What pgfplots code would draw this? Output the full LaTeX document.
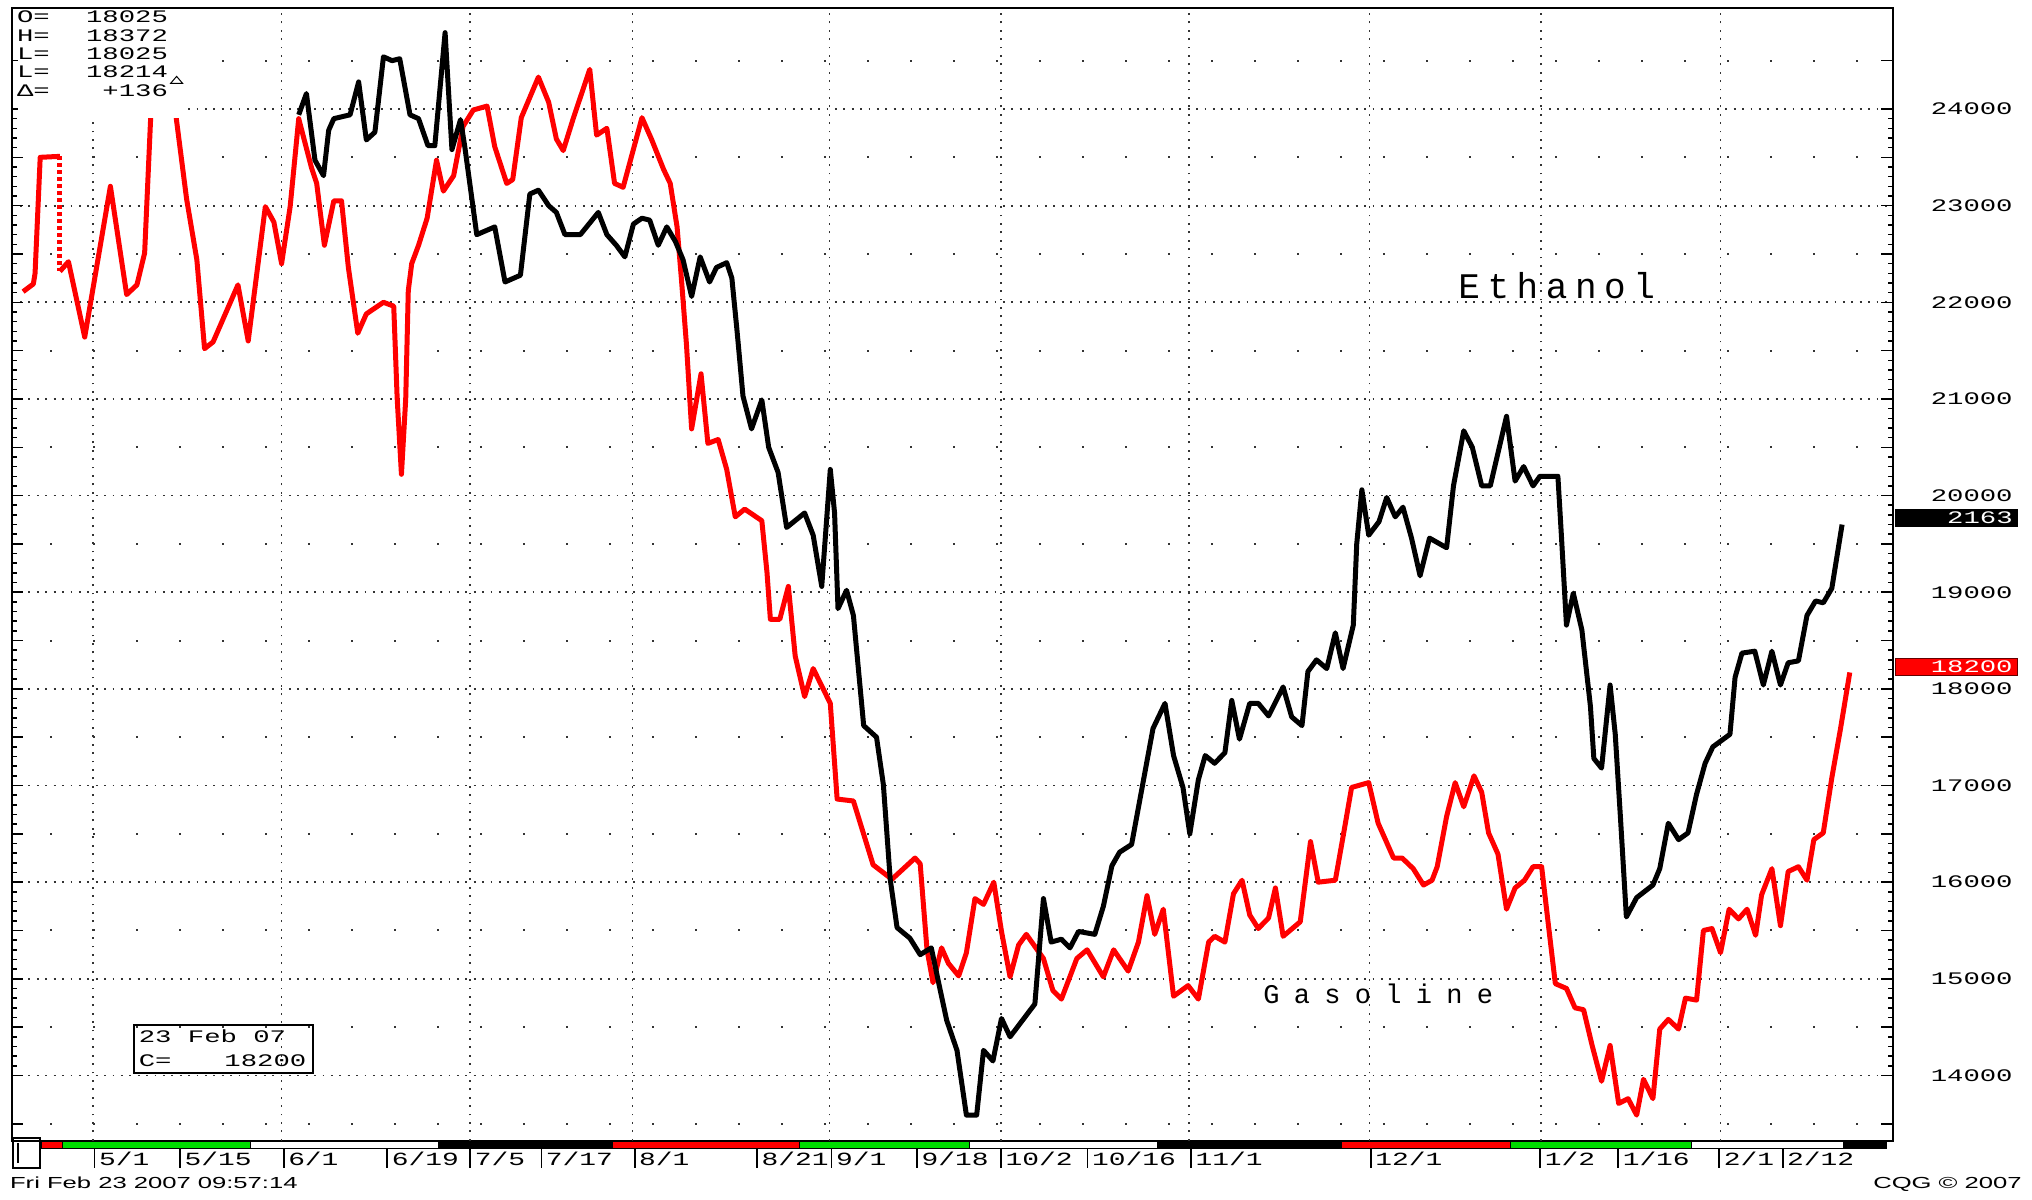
\documentclass[border=0pt]{standalone}
\usepackage{fontspec}
\setmainfont{Liberation Sans}
\newfontfamily\cqgnumfam[FakeStretch=1.55]{Liberation Mono}
\newfontfamily\cqgdatefam[FakeStretch=1.5]{Liberation Mono}
\newfontfamily\cqgsansfam[FakeStretch=1.6]{Liberation Sans}
\newfontfamily\ethfam[LetterSpace=21]{Liberation Mono}
\newfontfamily\gasfam[LetterSpace=53]{Liberation Mono}
\newcommand{\numfont}{\cqgnumfam\fontsize{8.8pt}{10pt}\selectfont}
\newcommand{\datefont}{\cqgdatefam\fontsize{9.3pt}{11pt}\selectfont}
\newcommand{\footfont}{\cqgsansfam\fontsize{8pt}{10pt}\selectfont}
\newcommand{\lab}[1]{\rule[-0.85pt]{0.9pt}{10.35pt}\hspace{1.8pt}#1}
\usepackage{pgfplots}
\pgfplotsset{compat=1.18}
\definecolor{cqgred}{rgb}{1,0,0}
\definecolor{cqggreen}{RGB}{0,220,0}
\tikzset{
  densegrid/.style={line width=0.9pt, black!80, dash pattern=on 0.9pt off 3.3pt},
  sparsegrid/.style={line width=1pt, black!80, dash pattern=on 1pt off 20.5pt, dash phase=2.35pt},
}
\begin{document}
\begin{tikzpicture}
\path[use as bounding box] (0,0) rectangle (1016pt,599.5pt);
\begin{axis}[
  at={(5.85pt,29.25pt)}, anchor=south west,
  scale only axis, width=940.65pt, height=566.05pt,
  xmin=-9.53, xmax=210.25, ymin=13327, ymax=25041,
  clip mode=individual,
  scaled y ticks=false, scaled x ticks=false,
  axis line style={line width=1pt, black},
  ytick={14000,15000,16000,17000,18000,19000,20000,21000,22000,23000,24000},
  yticklabels={14000,15000,16000,17000,18000,19000,20000,21000,22000,23000,24000},
  extra y ticks={13500,14500,15500,16500,17500,18500,19500,20500,21500,22500,23500,24500},
  extra y tick labels={},
  extra y tick style={grid=none},
  minor y tick num=9,
  ytick pos=both, yticklabel pos=right, ytick align=inside,
  major tick length=5.8pt, minor tick length=2.5pt,
  tick style={black, line width=0.75pt},
  ymajorgrids, major grid style={densegrid},
  yticklabel style={font=\numfont, anchor=east, xshift=60pt, inner sep=0pt},
  xtick={0,9.99,22.1,34.2,43.9,52.2,63.1,77.4,86.1,96.1,105.9,116.0,128.1,149.1,168.9,178.0,189.8,197.2},
  xticklabels={\lab{5/1},\lab{5/15},\lab{6/1},\lab{6/19},\lab{7/5},\lab{7/17},\lab{8/1},\lab{8/21},\lab{9/1},\lab{9/18},\lab{10/2},\lab{10/16},\lab{11/1},\lab{12/1},\lab{1/2},\lab{1/16},\lab{2/1},\lab{2/12}},
  xtick style={draw=none},
  xticklabel style={font=\datefont, anchor=north west, inner sep=0pt, yshift=-3pt},
]
% sparse 500-level rows
\draw[sparsegrid] (axis cs:-9.53,13500) -- (axis cs:210.25,13500);
\draw[sparsegrid] (axis cs:-9.53,14500) -- (axis cs:210.25,14500);
\draw[sparsegrid] (axis cs:-9.53,15500) -- (axis cs:210.25,15500);
\draw[sparsegrid] (axis cs:-9.53,16500) -- (axis cs:210.25,16500);
\draw[sparsegrid] (axis cs:-9.53,17500) -- (axis cs:210.25,17500);
\draw[sparsegrid] (axis cs:-9.53,18500) -- (axis cs:210.25,18500);
\draw[sparsegrid] (axis cs:-9.53,19500) -- (axis cs:210.25,19500);
\draw[sparsegrid] (axis cs:-9.53,20500) -- (axis cs:210.25,20500);
\draw[sparsegrid] (axis cs:-9.53,21500) -- (axis cs:210.25,21500);
\draw[sparsegrid] (axis cs:-9.53,22500) -- (axis cs:210.25,22500);
\draw[sparsegrid] (axis cs:-9.53,23500) -- (axis cs:210.25,23500);
\draw[sparsegrid] (axis cs:-9.53,24500) -- (axis cs:210.25,24500);
% month lines
\draw[densegrid] (axis cs:0,13327) -- (axis cs:0,25041);
\draw[densegrid] (axis cs:22,13327) -- (axis cs:22,25041);
\draw[densegrid] (axis cs:44,13327) -- (axis cs:44,25041);
\draw[densegrid] (axis cs:63,13327) -- (axis cs:63,25041);
\draw[densegrid] (axis cs:86,13327) -- (axis cs:86,25041);
\draw[densegrid] (axis cs:106,13327) -- (axis cs:106,25041);
\draw[densegrid] (axis cs:128,13327) -- (axis cs:128,25041);
\draw[densegrid] (axis cs:149.1,13327) -- (axis cs:149.1,25041);
\draw[densegrid] (axis cs:169.1,13327) -- (axis cs:169.1,25041);
\draw[densegrid] (axis cs:190.1,13327) -- (axis cs:190.1,25041);

% Gasoline (red)
\addplot[cqgred, line width=2.5pt, line join=round] coordinates {
(-8.2,22110) (-7.0,22190) (-6.8,22300) (-6.2,23500) (-3.9,23510)};
\addplot[cqgred, line width=2.5pt, dash pattern=on 2pt off 1.5pt] coordinates {(-3.9,23510) (-3.9,22320)};
\addplot[cqgred, line width=2.5pt, line join=round] coordinates {
(-3.9,22320) (-2.9,22420) (-1.0,21640) (2.0,23200) (3.9,22080) (5.1,22180) (6.0,22510) (6.7,23900) (7.6,24600) (8.8,24650) (9.7,23900) (10.9,23070) (12.1,22440) (13.0,21520) (14.0,21590) (16.9,22180) (18.1,21600) (20.1,22990) (21.1,22830) (22.0,22400) (23.0,22990) (24.0,23900) (25.5,23390) (26.1,23230) (27.0,22590) (28.1,23050) (29.0,23050) (29.8,22360) (30.9,21680) (31.9,21880) (33.9,22000) (35.1,21960) (35.5,21010) (36.0,20220) (36.5,21000) (36.8,22120) (37.2,22400) (38.0,22590) (39.0,22870) (40.1,23470) (40.9,23150) (42.1,23310) (43.2,23820) (44.4,23990) (46.0,24030) (46.9,23610) (48.3,23230) (49.0,23270) (50.0,23910) (52.0,24330) (53.2,24070) (54.1,23690) (54.9,23570) (56.1,23910) (58.0,24410) (58.8,23730) (60.0,23800) (60.9,23230) (61.9,23190) (64.1,23910) (65.2,23690) (66.6,23380) (67.4,23230) (68.2,22780) (68.7,22250) (69.3,21560) (69.9,20690) (71.0,21260) (71.8,20540) (73.0,20580) (74.0,20270) (75.0,19780) (76.1,19860) (78.1,19740) (78.7,19210) (79.1,18720) (80.2,18720) (81.2,19060) (82.0,18340) (83.1,17920) (84.1,18210) (86.1,17850) (86.9,16860) (88.8,16840) (91.1,16180) (93.3,16030) (96.0,16250) (96.6,16190) (97.4,15300) (98.1,14960) (99.1,15320) (99.9,15160) (101.1,15030) (102.0,15270) (103.0,15830) (104.0,15770) (105.2,16000) (106.1,15490) (107.1,15020) (108.1,15350) (109.0,15460) (111.0,15210) (112.1,14880) (113.1,14790) (114.9,15210) (116.1,15300) (118.0,15020) (119.2,15300) (120.9,15080) (122.1,15380) (123.1,15860) (124.0,15460) (125.0,15720) (126.2,14820) (127.9,14930) (129.1,14790) (130.3,15380) (131.0,15440) (132.2,15380) (133.2,15880) (134.2,16020) (135.1,15660) (136.1,15520) (137.3,15630) (138.1,15940) (139.0,15440) (141.0,15590) (142.2,16420) (143.1,16000) (145.1,16020) (146.0,16470) (147.0,16980) (149.0,17030) (150.1,16610) (151.9,16250) (152.9,16250) (154.2,16140) (155.4,15970) (156.4,16020) (157.0,16160) (158.1,16680) (159.1,17030) (160.1,16780) (161.3,17100) (162.2,16930) (163.0,16510) (164.1,16290) (165.1,15720) (166.1,15940) (167.2,16020) (168.2,16160) (169.2,16160) (170.0,15550) (170.8,14950) (172.1,14900) (173.1,14700) (174.1,14680) (175.1,14310) (176.2,13940) (177.2,14310) (178.2,13710) (179.3,13760) (180.3,13590) (181.1,13960) (182.2,13760) (183.0,14480) (184.0,14580) (185.2,14480) (186.0,14800) (187.3,14780) (188.1,15500) (189.1,15520) (190.1,15270) (191.1,15720) (192.2,15620) (193.2,15720) (194.2,15450) (194.9,15870) (196.1,16140) (197.1,15550) (198.0,16110) (199.2,16160) (200.2,16020) (201.0,16440) (202.1,16510) (203.1,17080) (204.1,17580) (205.2,18170)};
% Ethanol (black)
\addplot[black, line width=2.5pt, line join=round] coordinates {
(24.0,23940) (24.9,24160) (25.9,23470) (26.9,23310) (27.5,23780) (28.1,23900) (30.0,23940) (31.0,24280) (31.9,23680) (32.9,23760) (33.9,24540) (34.9,24500) (35.8,24520) (37.0,23940) (38.0,23900) (39.1,23620) (39.9,23620) (41.1,24790) (41.9,23580) (42.9,23890) (43.4,23610) (44.8,22700) (46.9,22780) (48.1,22210) (49.9,22280) (51.0,23120) (52.0,23160) (53.2,23000) (54.1,22930) (55.1,22700) (56.9,22700) (59.0,22930) (60.0,22700) (61.1,22590) (62.1,22470) (63.1,22810) (64.1,22870) (65.0,22850) (66.0,22590) (67.0,22780) (68.0,22630) (68.9,22440) (69.9,22060) (70.9,22470) (72.0,22210) (72.8,22360) (74.0,22410) (74.6,22250) (75.2,21710) (75.9,21030) (76.9,20690) (78.1,20990) (78.9,20500) (80.0,20240) (81.0,19670) (83.1,19820) (84.1,19590) (85.1,19060) (86.1,20270) (86.6,19820) (87.0,18830) (88.0,19020) (88.8,18760) (90.0,17620) (91.5,17500) (92.3,17010) (93.1,16030) (93.9,15530) (95.4,15420) (96.6,15250) (97.9,15320) (98.9,14900) (99.7,14570) (100.9,14260) (102.0,13590) (103.2,13590) (104.0,14260) (105.1,14150) (106.1,14590) (107.1,14400) (110.0,14740) (111.0,15830) (111.9,15380) (113.1,15410) (114.1,15320) (115.1,15490) (117.0,15460) (118.0,15750) (119.0,16170) (119.9,16310) (121.3,16390) (122.3,16870) (123.8,17590) (125.2,17850) (126.2,17310) (127.3,16980) (128.1,16500) (129.1,17060) (129.9,17310) (131.0,17230) (132.2,17340) (133.0,17880) (133.9,17480) (135.1,17850) (136.1,17850) (137.3,17720) (139.0,18020) (140.0,17710) (141.2,17620) (141.9,18180) (142.9,18300) (144.1,18210) (145.1,18580) (146.0,18210) (147.2,18660) (147.6,19500) (148.2,20060) (149.0,19590) (150.2,19730) (151.1,19980) (152.1,19780) (153.0,19880) (154.0,19560) (155.0,19170) (156.1,19560) (158.1,19460) (158.9,20100) (160.1,20670) (161.1,20500) (162.2,20100) (163.2,20100) (165.1,20820) (166.1,20150) (167.1,20300) (168.2,20100) (169.0,20200) (171.1,20200) (171.5,19600) (172.1,18660) (172.9,18990) (173.9,18610) (174.9,17820) (175.3,17280) (176.2,17180) (177.2,18040) (177.8,17530) (178.4,16680) (179.1,15640) (180.3,15840) (182.2,15970) (183.0,16140) (184.0,16610) (185.2,16440) (186.3,16510) (187.3,16910) (188.3,17230) (189.2,17400) (191.2,17530) (191.8,18120) (192.6,18370) (194.1,18390) (195.1,18040) (196.1,18390) (197.1,18040) (198.0,18270) (199.2,18290) (200.2,18760) (201.2,18910) (202.1,18890) (203.1,19040) (204.3,19700)};

% colour band under the plot
\filldraw[fill=cqgred, draw=black, line width=0.4pt] ([yshift=-3.8pt]axis cs:-6.05,13327) rectangle ([yshift=-0.5pt]axis cs:-3.6,13327);
\filldraw[fill=cqggreen, draw=black, line width=0.4pt] ([yshift=-3.8pt]axis cs:-3.6,13327) rectangle ([yshift=-0.5pt]axis cs:18.3,13327);
\filldraw[fill=white, draw=black, line width=0.4pt] ([yshift=-3.8pt]axis cs:18.3,13327) rectangle ([yshift=-0.5pt]axis cs:40.3,13327);
\filldraw[fill=black, draw=black, line width=0.4pt] ([yshift=-3.8pt]axis cs:40.3,13327) rectangle ([yshift=-0.5pt]axis cs:60.7,13327);
\filldraw[fill=cqgred, draw=black, line width=0.4pt] ([yshift=-3.8pt]axis cs:60.7,13327) rectangle ([yshift=-0.5pt]axis cs:82.5,13327);
\filldraw[fill=cqggreen, draw=black, line width=0.4pt] ([yshift=-3.8pt]axis cs:82.5,13327) rectangle ([yshift=-0.5pt]axis cs:102.3,13327);
\filldraw[fill=white, draw=black, line width=0.4pt] ([yshift=-3.8pt]axis cs:102.3,13327) rectangle ([yshift=-0.5pt]axis cs:124.3,13327);
\filldraw[fill=black, draw=black, line width=0.4pt] ([yshift=-3.8pt]axis cs:124.3,13327) rectangle ([yshift=-0.5pt]axis cs:145.8,13327);
\filldraw[fill=cqgred, draw=black, line width=0.4pt] ([yshift=-3.8pt]axis cs:145.8,13327) rectangle ([yshift=-0.5pt]axis cs:165.5,13327);
\filldraw[fill=cqggreen, draw=black, line width=0.4pt] ([yshift=-3.8pt]axis cs:165.5,13327) rectangle ([yshift=-0.5pt]axis cs:186.7,13327);
\filldraw[fill=white, draw=black, line width=0.4pt] ([yshift=-3.8pt]axis cs:186.7,13327) rectangle ([yshift=-0.5pt]axis cs:204.4,13327);
\filldraw[fill=black, draw=black, line width=0.4pt] ([yshift=-3.8pt]axis cs:204.4,13327) rectangle ([yshift=-0.5pt]axis cs:209.5,13327);

% last-value boxes
\filldraw[fill=black, draw=black] ([xshift=1pt,yshift=-4.25pt]axis cs:210.25,19773) rectangle ([xshift=62pt,yshift=4.25pt]axis cs:210.25,19773);
\node[anchor=east, inner sep=0pt, text=white, font=\numfont] at ([xshift=60pt]axis cs:210.25,19773) {2163};
\filldraw[fill=cqgred, draw=black!60!red] ([xshift=1pt,yshift=-4.25pt]axis cs:210.25,18232) rectangle ([xshift=62pt,yshift=4.25pt]axis cs:210.25,18232);
\node[anchor=east, inner sep=0pt, text=white, font=\numfont] at ([xshift=60pt]axis cs:210.25,18232) {18200};
\end{axis}

% info box top-left
\fill[white] (8.9pt,540.25pt) rectangle (92.5pt,594.8pt);
\node[anchor=base west, inner sep=0pt, font=\numfont] at (8.35pt,588.05pt) {O=};
\node[anchor=base west, inner sep=0pt, font=\numfont] at (8.35pt,578.9pt) {H=};
\node[anchor=base west, inner sep=0pt, font=\numfont] at (8.35pt,569.75pt) {L=};
\node[anchor=base west, inner sep=0pt, font=\numfont] at (8.35pt,560.55pt) {L=};
\node[anchor=base west, inner sep=0pt, font=\numfont] at (8.35pt,551.4pt) {Δ=};
\node[anchor=base east, inner sep=0pt, font=\numfont] at (84.15pt,588.05pt) {18025};
\node[anchor=base east, inner sep=0pt, font=\numfont] at (84.15pt,578.9pt) {18372};
\node[anchor=base east, inner sep=0pt, font=\numfont] at (84.15pt,569.75pt) {18025};
\node[anchor=base east, inner sep=0pt, font=\numfont] at (84.15pt,560.55pt) {18214};
\node[anchor=base east, inner sep=0pt, font=\numfont] at (84.15pt,551.4pt) {+136};
\draw[line width=0.5pt] (85.3pt,557.8pt) -- (91.3pt,557.8pt) -- (88.3pt,561.3pt) -- cycle;

% date box bottom-left
\draw[line width=1pt] (67pt,63.15pt) rectangle (156.65pt,87pt);
\node[anchor=base west, inner sep=0pt, font=\numfont] at (69.2pt,78.05pt) {23 Feb 07};
\node[anchor=base west, inner sep=0pt, font=\numfont] at (69.2pt,66.4pt) {C=};
\node[anchor=base east, inner sep=0pt, font=\numfont] at (153.35pt,66.4pt) {18200};

% small box bottom-left corner
\draw[line width=0.8pt] (6.5pt,15.5pt) rectangle (20pt,30.5pt);
\draw[line width=0.8pt] (9pt,18pt) -- (9pt,28pt);

% series names
\node[anchor=base west, inner sep=0pt, font=\ethfam\fontsize{18pt}{20pt}\selectfont] at (729pt,450.35pt) {Ethanol};
\node[anchor=base west, inner sep=0pt, font=\gasfam\fontsize{13.5pt}{15pt}\selectfont] at (631.5pt,97.85pt) {Gasoline};

% footer
\node[anchor=base west, inner sep=0pt, font=\footfont] at (4.85pt,5.5pt) {Fri Feb 23 2007 09:57:14};
\node[anchor=base east, inner sep=0pt, font=\footfont] at (1011pt,5.5pt) {CQG © 2007};
\end{tikzpicture}
\end{document}
